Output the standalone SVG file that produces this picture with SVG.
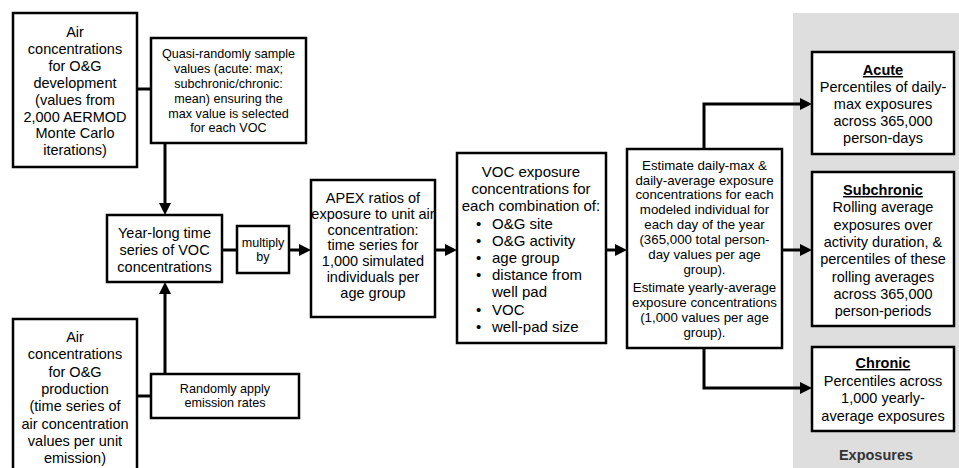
<svg xmlns="http://www.w3.org/2000/svg" width="959" height="468" viewBox="0 0 959 468">
<defs>
<style>
.box{fill:#fff;stroke:#000;stroke-width:2.5}
.t{font-family:"Liberation Sans",Arial,sans-serif;fill:#000;text-anchor:middle}
.l{font-size:14.5px}
.s{font-size:12.6px}
.m{font-size:13.3px}
.c{fill:none;stroke:#000;stroke-width:3}
.a{marker-end:url(#ah)}
.ttl{font-weight:bold;text-decoration:underline}
</style>
<marker id="ah" markerUnits="userSpaceOnUse" markerWidth="13" markerHeight="13" refX="6" refY="6" orient="auto">
<path d="M0,0 L12,6 L0,12 z" fill="#000"/>
</marker>
</defs>
<rect x="793" y="13" width="166" height="455" fill="#dedede"/>
<g id="connectors">
<line class="c" x1="137" y1="89" x2="151" y2="89"/>
<line class="c a" x1="165" y1="143" x2="165" y2="209"/>
<line class="c" x1="137" y1="396" x2="151" y2="396"/>
<line class="c a" x1="165" y1="374" x2="165" y2="288"/>
<line class="c" x1="222" y1="250" x2="237" y2="250"/>
<line class="c a" x1="289" y1="250" x2="305" y2="250"/>
<line class="c a" x1="435" y1="250" x2="451" y2="250"/>
<line class="c a" x1="606" y1="250" x2="621" y2="250"/>
<polyline class="c a" points="704,149 704,104 806,104"/>
<line class="c a" x1="782" y1="250" x2="806" y2="250"/>
<polyline class="c a" points="704,348 704,388 806,388"/>
</g>
<g id="dev">
<rect class="box" x="13" y="13" width="124" height="154"/>
<text class="t l"><tspan x="75" y="37">Air</tspan><tspan x="75" y="53.9">concentrations</tspan><tspan x="75" y="70.8">for O&amp;G</tspan><tspan x="75" y="87.7">development</tspan><tspan x="75" y="104.6">(values from</tspan><tspan x="75" y="121.5">2,000 AERMOD</tspan><tspan x="75" y="138.4">Monte Carlo</tspan><tspan x="75" y="155.3">iterations)</tspan></text>
</g>
<g id="quasi">
<rect class="box" x="151" y="38" width="155" height="105"/>
<text class="t s"><tspan x="228.5" y="58.3">Quasi-randomly sample</tspan><tspan x="228.5" y="73.1">values (acute: max;</tspan><tspan x="228.5" y="87.9">subchronic/chronic:</tspan><tspan x="228.5" y="102.7">mean) ensuring the</tspan><tspan x="228.5" y="117.5">max value is selected</tspan><tspan x="228.5" y="132.3">for each VOC</tspan></text>
</g>
<g id="yearlong">
<rect class="box" x="107" y="215" width="115" height="67"/>
<text class="t l"><tspan x="164.5" y="238">Year-long time</tspan><tspan x="164.5" y="255">series of VOC</tspan><tspan x="164.5" y="272">concentrations</tspan></text>
</g>
<g id="multiply">
<rect class="box" x="237" y="226" width="52" height="47"/>
<text class="t s"><tspan x="263" y="247">multiply</tspan><tspan x="263" y="261">by</tspan></text>
</g>
<g id="prod">
<rect class="box" x="13" y="319" width="124" height="160"/>
<text class="t l"><tspan x="75" y="342">Air</tspan><tspan x="75" y="359.3">concentrations</tspan><tspan x="75" y="376.6">for O&amp;G</tspan><tspan x="75" y="393.9">production</tspan><tspan x="75" y="411.2">(time series of</tspan><tspan x="75" y="428.5">air concentration</tspan><tspan x="75" y="445.8">values per unit</tspan><tspan x="75" y="463.1">emission)</tspan></text>
</g>
<g id="random">
<rect class="box" x="151" y="374" width="148" height="44"/>
<text class="t s"><tspan x="225" y="393.3">Randomly apply</tspan><tspan x="225" y="407.3">emission rates</tspan></text>
</g>
<g id="apex">
<rect class="box" x="311" y="180" width="124" height="137"/>
<text class="t l"><tspan x="373" y="203">APEX ratios of</tspan><tspan x="373" y="218.8">exposure to unit air</tspan><tspan x="373" y="234.6">concentration:</tspan><tspan x="373" y="250.4">time series for</tspan><tspan x="373" y="266.2">1,000 simulated</tspan><tspan x="373" y="282">individuals per</tspan><tspan x="373" y="297.8">age group</tspan></text>
</g>
<g id="voc">
<rect class="box" x="457" y="153" width="149" height="190"/>
<text class="t l" style="font-size:15px"><tspan x="531" y="177">VOC exposure</tspan><tspan x="531" y="194.2">concentrations for</tspan><tspan x="531" y="211.4">each combination of:</tspan></text>
<text class="t l" style="font-size:15px;text-anchor:start"><tspan x="476" y="228.6">•</tspan><tspan x="492" y="228.6">O&amp;G site</tspan><tspan x="476" y="245.8">•</tspan><tspan x="492" y="245.8">O&amp;G activity</tspan><tspan x="476" y="263">•</tspan><tspan x="492" y="263">age group</tspan><tspan x="476" y="280.2">•</tspan><tspan x="492" y="280.2">distance from</tspan><tspan x="492" y="297.4">well pad</tspan><tspan x="476" y="314.6">•</tspan><tspan x="492" y="314.6">VOC</tspan><tspan x="476" y="331.8">•</tspan><tspan x="492" y="331.8">well-pad size</tspan></text>
</g>
<g id="estimate">
<rect class="box" x="627" y="149" width="155" height="199"/>
<text class="t m"><tspan x="704.5" y="169.6">Estimate daily-max &amp;</tspan><tspan x="704.5" y="184.5">daily-average exposure</tspan><tspan x="704.5" y="199.4">concentrations for each</tspan><tspan x="704.5" y="214.3">modeled individual for</tspan><tspan x="704.5" y="229.2">each day of the year</tspan><tspan x="704.5" y="244.1">(365,000 total person-</tspan><tspan x="704.5" y="259">day values per age</tspan><tspan x="704.5" y="273.9">group).</tspan><tspan x="704.5" y="291.6">Estimate yearly-average</tspan><tspan x="704.5" y="306.8">exposure concentrations</tspan><tspan x="704.5" y="322">(1,000 values per age</tspan><tspan x="704.5" y="336.6">group).</tspan></text>
</g>
<g id="acute">
<rect class="box" x="812" y="52" width="142" height="102"/>
<text class="t l"><tspan x="883" y="75" class="ttl">Acute</tspan><tspan x="883" y="92">Percentiles of daily-</tspan><tspan x="883" y="109">max exposures</tspan><tspan x="883" y="126">across 365,000</tspan><tspan x="883" y="143">person-days</tspan></text>
</g>
<g id="subchronic">
<rect class="box" x="812" y="172" width="142" height="154"/>
<text class="t l"><tspan x="883" y="195" class="ttl">Subchronic</tspan><tspan x="883" y="212.3">Rolling average</tspan><tspan x="883" y="229.6">exposures over</tspan><tspan x="883" y="246.9">activity duration, &amp;</tspan><tspan x="883" y="264.2">percentiles of these</tspan><tspan x="883" y="281.5">rolling averages</tspan><tspan x="883" y="298.8">across 365,000</tspan><tspan x="883" y="316.1">person-periods</tspan></text>
</g>
<g id="chronic">
<rect class="box" x="812" y="347" width="142" height="84"/>
<text class="t l"><tspan x="883" y="368" class="ttl">Chronic</tspan><tspan x="883" y="385.7">Percentiles across</tspan><tspan x="883" y="403.4">1,000 yearly-</tspan><tspan x="883" y="421.1">average exposures</tspan></text>
</g>
<g id="exposures">
<text class="t l" x="876" y="460" style="font-weight:bold;fill:#333">Exposures</text>
</g>
</svg>
